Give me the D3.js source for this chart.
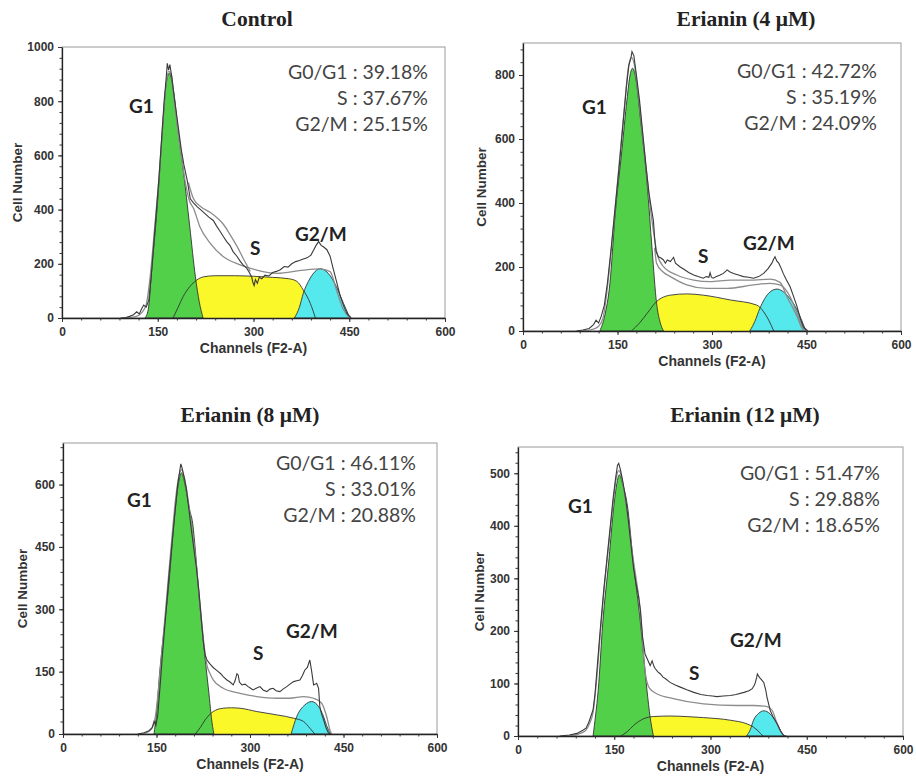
<!DOCTYPE html>
<html>
<head>
<meta charset="utf-8">
<script src="https://cdn.jsdelivr.net/npm/d3@7"></script>
<style>
  body { margin: 0; background: #fff; }
  svg { display: block; }
</style>
</head>
<body>
<script>
// ---- data ----
var titles = ["Control", "Erianin (4 \u03bcM)", "Erianin (8 \u03bcM)", "Erianin (12 \u03bcM)"];
var g0g1Pct = ["39.18%", "42.72%", "46.11%", "51.47%"];
var sPct = ["37.67%", "35.19%", "33.01%", "29.88%"];
var g2mPct = ["25.15%", "24.09%", "20.88%", "18.65%"];
var channelTicks = [0, 150, 300, 450, 600];
var yMax = [1000, 900, 700, 550];
var yStep = [200, 200, 150, 100];

// Control
var g1Control = [[130,0],[135,30],[141,190],[150,435],[157,680],[163,860],[168,903],[174,850],[182,690],[190,546],[200,340],[209,152],[215,60],[221,0]];
var sControl = [[174,0],[182,40],[190,80],[200,115],[211,140],[222,152],[240,156],[270,156],[300,154],[330,150],[355,145],[368,135],[378,103],[389,54],[397,0]];
var g2mControl = [[364,0],[372,40],[378,91],[386,135],[394,165],[404,182],[417,165],[430,115],[441,54],[451,0]];
var fitControl = [[100,0],[115,5],[125,20],[132,50],[138,150],[145,330],[152,520],[158,720],[163,860],[167,910],[171,900],[176,800],[182,680],[188,580],[194,490],[200,430],[206,405],[216,337],[232,276],[253,226],[279,196],[305,177],[337,165],[378,177],[404,181],[420,171],[430,103],[440,35],[451,0]];
var fit2Control = [[198,500],[206,440],[218,410],[232,390],[245,365],[253,345],[264,305],[274,265],[285,215],[295,172]];
var rawControl = [[92,0],[100,2],[106,6],[112,12],[117,23],[121,15],[125,35],[128,48],[132,40],[136,66],[140,160],[144,280],[148,400],[152,520],[156,660],[160,800],[163,880],[165,940],[167,915],[169,935],[172,890],[175,830],[179,760],[183,690],[187,620],[191,565],[196,510],[201,440],[206,425],[212,410],[218,398],[224,385],[230,372],[237,360],[242,340],[247,322],[253,300],[258,282],[263,268],[268,245],[274,228],[279,210],[284,195],[289,185],[293,170],[297,152],[299,132],[301,120],[303,142],[306,128],[309,150],[313,145],[318,158],[324,155],[330,168],[336,172],[342,178],[348,190],[354,188],[360,200],[366,208],[372,212],[378,218],[384,222],[390,232],[394,250],[398,268],[402,282],[406,268],[410,262],[415,252],[420,228],[425,180],[430,135],[436,80],[442,40],[447,15],[453,0]];

// Erianin 4 uM
var g1E4 = [[122,0],[130,50],[138,149],[146,357],[157,566],[165,722],[170,800],[174,821],[179,790],[186,670],[197,461],[205,253],[212,87],[218,25],[223,0]];
var sE4 = [[172,0],[185,25],[197,55],[212,92],[234,112],[260,116],[286,112],[329,97],[371,81],[382,60],[390,34],[398,0]];
var g2mE4 = [[360,0],[368,30],[376,71],[390,118],[403,131],[419,112],[435,66],[442,35],[449,0]];
var fitE4 = [[95,0],[110,5],[120,15],[127,40],[133,120],[140,250],[147,400],[154,550],[161,700],[167,820],[172,855],[177,830],[183,740],[190,610],[197,480],[203,370],[208,300],[213,240],[223,201],[244,175],[271,159],[297,154],[329,159],[366,159],[392,162],[408,152],[419,107],[435,45],[443,8],[447,0]];
var fit2E4 = [[209,260],[212,212],[222,185],[234,170],[260,144],[292,133],[324,133],[366,144],[392,149],[408,144],[424,107],[437,45],[445,8],[448,0]];
var rawE4 = [[85,0],[95,3],[105,8],[112,20],[116,34],[120,25],[124,45],[129,80],[134,150],[140,260],[146,380],[152,500],[158,630],[164,760],[168,830],[171,850],[173,873],[176,860],[180,800],[185,720],[190,620],[195,520],[200,430],[204,380],[207,345],[209,290],[211,250],[215,232],[219,228],[223,222],[226,212],[229,222],[234,217],[237,225],[239,230],[242,212],[249,201],[256,192],[263,183],[271,175],[278,170],[286,165],[291,170],[295,168],[297,182],[299,168],[302,165],[307,170],[313,175],[318,180],[322,187],[324,191],[328,185],[334,180],[342,175],[350,170],[358,168],[366,165],[374,170],[382,180],[389,195],[395,212],[398,225],[400,232],[403,218],[406,212],[410,195],[413,180],[418,160],[424,138],[430,105],[435,76],[440,40],[445,13],[452,0]];

// Erianin 8 uM
var g1E8 = [[146,0],[150,50],[155,146],[162,250],[169,347],[178,507],[184,590],[190,628],[197,590],[203,540],[208,507],[213,430],[218,335],[223,255],[227,195],[231,140],[235,85],[238,40],[242,0]];
var sE8 = [[212,0],[220,15],[228,34],[241,54],[257,62],[270,63],[284,62],[311,54],[343,46],[370,38],[386,30],[396,14],[404,0]];
var g2mE8 = [[366,0],[375,42],[388,70],[399,78],[410,66],[418,42],[423,20],[429,0]];
var fitE8 = [[125,0],[135,4],[142,12],[148,40],[154,120],[160,220],[167,340],[174,460],[181,570],[186,620],[190,636],[195,615],[201,560],[207,490],[213,420],[218,340],[223,262],[227,205],[231,165],[236,145],[241,130],[257,110],[284,98],[311,90],[343,86],[364,86],[386,90],[402,86],[415,74],[423,42],[429,6],[431,0]];
var rawE8 = [[120,0],[130,3],[138,8],[143,15],[146,30],[149,20],[152,45],[156,120],[160,200],[165,290],[170,380],[175,460],[180,540],[184,600],[187,630],[189,650],[191,640],[194,620],[198,590],[202,540],[206,490],[210,445],[214,400],[218,345],[222,275],[225,225],[228,190],[231,178],[236,168],[241,160],[245,155],[249,150],[253,145],[257,138],[263,130],[268,125],[273,118],[276,128],[279,145],[281,142],[283,125],[287,118],[292,120],[297,114],[301,110],[305,106],[310,110],[316,114],[321,106],[327,102],[332,108],[337,110],[342,104],[348,102],[353,108],[359,114],[364,120],[370,126],[375,128],[380,130],[384,140],[388,154],[392,160],[396,178],[399,150],[402,118],[405,120],[407,122],[410,110],[412,66],[415,48],[418,34],[422,15],[426,2],[430,0]];

// Erianin 12 uM
var g1E12 = [[117,0],[121,40],[125,87],[132,213],[142,339],[149,434],[154,480],[158,497],[163,480],[171,434],[179,339],[191,213],[201,87],[206,35],[211,0]];
var sE12 = [[160,0],[170,8],[180,20],[196,33],[211,37],[237,38],[262,37],[289,35],[331,30],[357,23],[367,17],[378,5],[382,0]];
var g2mE12 = [[356,0],[362,12],[367,30],[375,43],[383,48],[393,42],[404,23],[410,8],[415,0]];
var fitE12 = [[80,0],[95,4],[105,10],[112,25],[117,45],[122,100],[128,190],[135,290],[142,370],[148,440],[153,490],[157,505],[161,495],[166,460],[172,410],[178,350],[184,300],[189,255],[193,200],[196,150],[199,115],[203,95],[208,87],[217,80],[242,71],[289,61],[341,58],[367,58],[388,56],[396,49],[404,23],[414,1],[417,0]];
var rawE12 = [[65,0],[80,2],[92,5],[101,11],[106,15],[110,25],[114,39],[117,50],[120,80],[124,140],[128,200],[133,270],[138,330],[143,390],[148,450],[152,490],[155,515],[157,519],[160,505],[164,480],[168,450],[172,410],[176,365],[180,320],[184,290],[188,265],[191,238],[194,190],[198,156],[202,145],[206,134],[209,143],[212,132],[214,128],[218,122],[222,118],[226,112],[230,109],[234,105],[237,102],[245,97],[253,93],[263,88],[274,83],[285,79],[295,77],[303,76],[310,75],[320,76],[331,77],[340,79],[352,83],[360,86],[365,90],[368,96],[370,102],[372,112],[373,118],[376,112],[378,109],[383,102],[386,88],[388,74],[393,49],[398,35],[404,23],[409,10],[414,1],[418,0]];

var g1Series = [g1Control, g1E4, g1E8, g1E12];
var sSeries = [sControl, sE4, sE8, sE12];
var g2mSeries = [g2mControl, g2mE4, g2mE8, g2mE12];
var fitSeries = [fitControl, fitE4, fitE8, fitE12];
var fit2Series = [fit2Control, fit2E4, null, null];
var rawSeries = [rawControl, rawE4, rawE8, rawE12];

// ---- layout (pixels) ----
var frames = [
  {x0: 62, x1: 445, y0: 47, y1: 318, titleX: 257, titleY: 26, yLabDx: 40},
  {x0: 523, x1: 901, y0: 43, y1: 331, titleX: 746, titleY: 26, yLabDx: 37},
  {x0: 63, x1: 437, y0: 443, y1: 734, titleX: 250, titleY: 422, yLabDx: 36},
  {x0: 518, x1: 903, y0: 447, y1: 736, titleX: 745, titleY: 422, yLabDx: 34}
];
// label offsets from frame left/top
var labelPos = [
  {g1: [67, 66], s: [188, 208], g2: [233, 194], statR: 17, statY: 32},
  {g1: [59, 71], s: [175, 220], g2: [220, 207], statR: 24, statY: 35},
  {g1: [64, 64], s: [190, 217], g2: [223, 195], statR: 21, statY: 27},
  {g1: [50, 66], s: [171, 233], g2: [212, 200], statR: 23, statY: 33}
];

var svg = d3.select("body").append("svg")
  .attr("width", 916)
  .attr("height", 777);

frames.forEach(function(f, i) {
  var x = d3.scaleLinear().domain([0, 600]).range([f.x0, f.x1]);
  var y = d3.scaleLinear().domain([0, yMax[i]]).range([f.y1, f.y0]);
  var g = svg.append("g");

  var line = d3.line().x(d => x(d[0])).y(d => y(d[1])).curve(d3.curveMonotoneX);
  var rawLine = d3.line().x(d => x(d[0])).y(d => y(d[1]));
  var area = d3.area().x(d => x(d[0])).y0(y(0)).y1(d => y(d[1])).curve(d3.curveMonotoneX);

  // frame
  g.append("rect")
    .attr("x", f.x0).attr("y", f.y0)
    .attr("width", f.x1 - f.x0).attr("height", f.y1 - f.y0)
    .attr("fill", "none").attr("stroke", "#9a9a9a").attr("stroke-width", 1);

  // S phase fill, then G1 and G2/M on top
  g.append("path").attr("d", area(sSeries[i])).attr("fill", "#fbf82a");
  g.append("path").attr("d", area(g1Series[i]))
    .attr("fill", "#52d04a").attr("stroke", "#333").attr("stroke-width", 0.9);
  g.append("path").attr("d", area(g2mSeries[i]))
    .attr("fill", "#55e9ee").attr("stroke", "#333").attr("stroke-width", 0.9);
  g.append("path").attr("d", line(sSeries[i]))
    .attr("fill", "none").attr("stroke", "#333").attr("stroke-width", 0.9);

  // model fit lines
  g.append("path").attr("d", line(fitSeries[i]))
    .attr("fill", "none").attr("stroke", "#8c8c8c").attr("stroke-width", 1.3);
  if (fit2Series[i]) {
    g.append("path").attr("d", line(fit2Series[i]))
      .attr("fill", "none").attr("stroke", "#8c8c8c").attr("stroke-width", 1.3);
  }
  // raw histogram
  g.append("path").attr("d", rawLine(rawSeries[i]))
    .attr("fill", "none").attr("stroke", "#3a3a3a").attr("stroke-width", 1.1);

  // axes
  g.append("g").attr("transform", "translate(0," + f.y1 + ")")
    .call(d3.axisBottom(x).tickValues(channelTicks).tickSize(4).tickSizeOuter(0).tickPadding(5).tickFormat(d3.format("d")));
  g.append("g").attr("transform", "translate(0," + f.y1 + ")")
    .call(d3.axisBottom(x).tickValues(d3.range(0, 601, 30)).tickSize(2.5).tickFormat(""))
    .select(".domain").remove();
  g.append("g").attr("transform", "translate(" + f.x0 + ",0)")
    .call(d3.axisLeft(y).tickValues(d3.range(0, yMax[i] + 1, yStep[i])).tickSize(4).tickSizeOuter(0).tickPadding(4).tickFormat(d3.format("d")));
  g.append("g").attr("transform", "translate(" + f.x0 + ",0)")
    .call(d3.axisLeft(y).tickValues(d3.range(0, yMax[i] + 1, yStep[i] / 5)).tickSize(2.5).tickFormat(""))
    .select(".domain").remove();

  g.selectAll(".tick line").attr("stroke", "#333");
  g.selectAll(".domain").attr("stroke", "#222").attr("stroke-width", 1.3);
  g.selectAll(".tick text")
    .attr("fill", "#333")
    .style("font-family", "'Liberation Sans', Arial, sans-serif")
    .style("font-weight", "bold")
    .style("font-size", "12px");

  // axis titles
  g.append("text")
    .attr("x", (f.x0 + f.x1) / 2).attr("y", f.y1 + 35)
    .attr("text-anchor", "middle")
    .style("font-family", "'Liberation Sans', Arial, sans-serif")
    .style("font-weight", "bold").style("font-size", "14px")
    .attr("fill", "#333")
    .text("Channels (F2-A)");
  g.append("text")
    .attr("transform", "translate(" + (f.x0 - f.yLabDx) + "," + ((f.y0 + f.y1) / 2) + ") rotate(-90)")
    .attr("text-anchor", "middle")
    .style("font-family", "'Liberation Sans', Arial, sans-serif")
    .style("font-weight", "bold").style("font-size", "13.5px")
    .attr("fill", "#333")
    .text("Cell Number");

  // panel title
  g.append("text")
    .attr("x", f.titleX).attr("y", f.titleY)
    .attr("text-anchor", "middle")
    .style("font-family", "'Liberation Serif', 'Times New Roman', serif")
    .style("font-weight", "bold").style("font-size", "21.5px")
    .attr("fill", "#222")
    .text(titles[i]);

  // phase labels
  var lp = labelPos[i];
  [["G1", lp.g1], ["S", lp.s], ["G2/M", lp.g2]].forEach(function(l) {
    g.append("text")
      .attr("x", f.x0 + l[1][0]).attr("y", f.y0 + l[1][1])
      .style("font-family", "Lato, 'Open Sans', sans-serif")
      .style("font-weight", "bold").style("font-size", "19px")
      .attr("fill", "#222")
      .text(l[0]);
  });

  // percentages
  var stats = ["G0/G1 : " + g0g1Pct[i], "S : " + sPct[i], "G2/M : " + g2mPct[i]];
  stats.forEach(function(s, k) {
    g.append("text")
      .attr("x", f.x1 - lp.statR).attr("y", f.y0 + lp.statY + k * 26)
      .attr("text-anchor", "end")
      .style("font-family", "Lato, 'Open Sans', sans-serif")
      .style("font-size", "19.5px")
      .attr("fill", "#444")
      .text(s);
  });
});
</script>
</body>
</html>
